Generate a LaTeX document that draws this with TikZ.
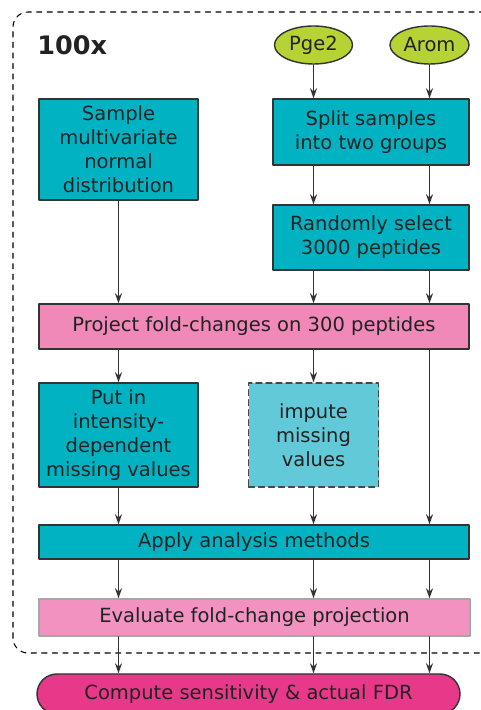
\documentclass[tikz,border=0pt]{standalone}
\usepackage{fontspec}
\setmainfont{DejaVu Sans}
\usetikzlibrary{arrows.meta,shapes.geometric,shapes.misc}

\definecolor{tealbox}{HTML}{00B2C2}
\definecolor{tealpale}{HTML}{62C9D9}
\definecolor{pinkbox}{HTML}{F088B8}
\definecolor{pinkpale}{HTML}{F292C0}
\definecolor{pinkdeep}{HTML}{E8388A}
\definecolor{limeoval}{HTML}{B5D334}
\definecolor{edgegray}{HTML}{333333}
\definecolor{inkgray}{HTML}{222222}

\tikzset{
  txt/.style={font=\fontsize{11.1}{13.6}\selectfont, text=inkgray, align=center, inner sep=0pt},
  stepbox/.style={txt, draw=edgegray, fill=tealbox, line width=0.8pt},
  foldbox/.style={txt, draw=edgegray, fill=pinkbox, line width=0.8pt},
  inputoval/.style={txt, ellipse, draw=edgegray, fill=limeoval, line width=0.8pt},
  flow/.style={draw=edgegray, line width=0.7pt, -{Stealth[length=0.2cm,width=0.14cm]}}
}

\begin{document}
\begin{tikzpicture}[x=1cm,y=1cm,line cap=round,line join=round]
  \useasboundingbox (0,0) rectangle (9.6,14.2);

  % Repetition frame
  \draw[dashed,line width=0.6pt,rounded corners=0.3cm] (0.26,1.14) rectangle (9.95,13.96);
  \node[anchor=west,font=\fontsize{14.5}{16}\selectfont\bfseries,text=inkgray,inner sep=0pt] (reps) at (0.74,13.3) {100x};

  % Inputs
  \node[inputoval,minimum width=1.56cm,minimum height=0.76cm] (pge) at (6.27,13.3) {Pge2};
  \node[inputoval,minimum width=1.58cm,minimum height=0.76cm] (arom) at (8.59,13.3) {Arom};

  % Steps
  \node[stepbox,minimum width=3.18cm,minimum height=2.02cm] (sample) at (2.37,11.21)
    {Sample\\multivariate\\normal\\distribution};
  \node[stepbox,minimum width=3.92cm,minimum height=1.32cm] (split) at (7.42,11.56)
    {Split samples\\into two groups};
  \node[stepbox,minimum width=3.92cm,minimum height=1.30cm] (random) at (7.42,9.45)
    {Randomly select\\3000 peptides};
  \node[foldbox,minimum width=8.60cm,minimum height=0.90cm] (project) at (5.08,7.67)
    {Project fold-changes on 300 peptides};
  \node[stepbox,minimum width=3.18cm,minimum height=2.08cm] (putin) at (2.37,5.50)
    {Put in\\intensity-\\dependent\\missing values};
  \node[stepbox,fill=tealpale,dash pattern=on 3.4pt off 2.3pt,draw=edgegray!90,
    minimum width=2.60cm,minimum height=2.08cm] (impute) at (6.27,5.50)
    {impute\\missing\\values};
  \node[stepbox,minimum width=8.60cm,minimum height=0.68cm] (apply) at (5.08,3.36)
    {Apply analysis methods};
  \node[foldbox,fill=pinkpale,draw=gray!70,minimum width=8.62cm,minimum height=0.74cm] (evaluate) at (5.09,1.85)
    {Evaluate fold-change projection};
  \node[foldbox,rounded rectangle,fill=pinkdeep,minimum width=8.46cm,minimum height=0.80cm] (compute) at (4.97,0.32)
    {Compute sensitivity \& actual FDR};

  % Connectors
  \draw[flow] (pge) -- (pge |- split.north);
  \draw[flow] (arom) -- (arom |- split.north);
  \draw[flow] (split.south -| pge) -- (random.north -| pge);
  \draw[flow] (split.south -| arom) -- (random.north -| arom);
  \draw[flow] (sample) -- (sample |- project.north);
  \draw[flow] (random.south -| pge) -- (project.north -| pge);
  \draw[flow] (random.south -| arom) -- (project.north -| arom);
  \draw[flow] (project.south -| putin) -- (putin.north);
  \draw[flow] (project.south -| impute) -- (impute.north);
  \draw[flow] (project.south -| arom) -- (apply.north -| arom);
  \draw[flow] (putin) -- (putin |- apply.north);
  \draw[flow] (impute) -- (impute |- apply.north);
  \foreach \col in {putin,impute,arom} {
    \draw[flow] (apply.south -| \col) -- (evaluate.north -| \col);
    \draw[flow] (evaluate.south -| \col) -- (compute.north -| \col);
  }
\end{tikzpicture}
\end{document}
